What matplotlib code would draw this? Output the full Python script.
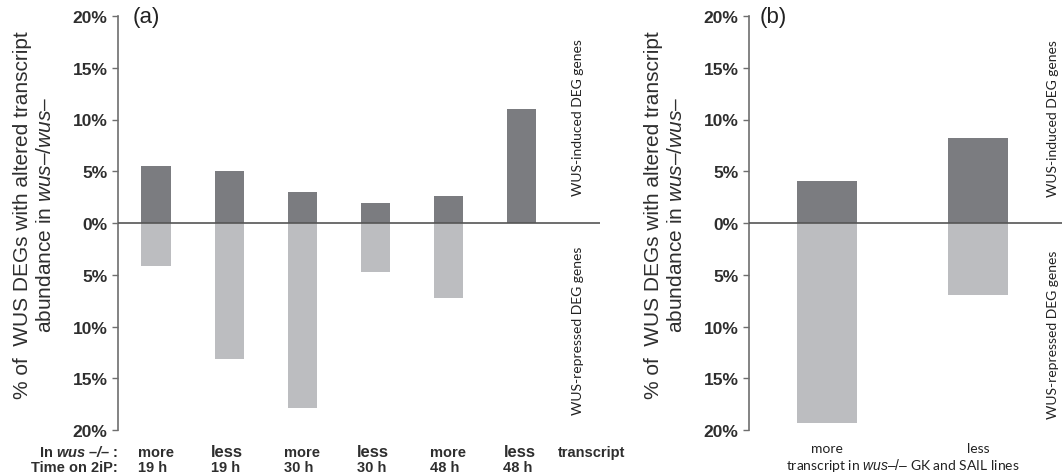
import matplotlib.pyplot as plt
from matplotlib.ticker import FuncFormatter

plt.rcParams['font.family'] = ['Liberation Sans', 'DejaVu Sans']
plt.rcParams['mathtext.fontset'] = 'custom'
plt.rcParams['mathtext.rm'] = 'Liberation Sans'
plt.rcParams['mathtext.it'] = 'Liberation Sans:italic'
plt.rcParams['mathtext.bf'] = 'Liberation Sans:bold'
plt.rcParams['mathtext.bfit'] = 'Liberation Sans:italic:bold'

# (a) time course on 2iP
change_a = ['more', 'less', 'more', 'less', 'more', 'less']
time_a = ['19 h', '19 h', '30 h', '30 h', '48 h', '48 h']
induced_a = [5.5, 5.0, 3.0, 1.9, 2.6, 11.0]
repressed_a = [4.2, 13.1, 17.9, 4.7, 7.2, 0.0]

# (b) GK and SAIL lines
change_b = ['more', 'less']
induced_b = [4.1, 8.2]
repressed_b = [19.3, 7.0]

dark = '#7b7c80'
light = '#bcbdc0'
axis_col = '#6e6e6e'
txt = '#2e2e2e'
yticks = [-20, -15, -10, -5, 0, 5, 10, 15, 20]
ylab = '% of  WUS DEGs with altered transcript\nabundance in $wus–/wus–$'

fig = plt.figure(figsize=(10.62, 4.77), dpi=100)
ax_a = fig.add_axes([118 / 1062, 1 - 431 / 477, 482 / 1062, 414 / 477])
ax_b = fig.add_axes([749 / 1062, 1 - 431 / 477, 313 / 1062, 414 / 477])


def style_axis(ax):
    ax.set_ylim(-20, 20)
    ax.set_yticks(yticks)
    ax.yaxis.set_major_formatter(FuncFormatter(lambda v, p: f'{abs(v):.0f}%'))
    for s in ['top', 'right', 'bottom']:
        ax.spines[s].set_visible(False)
    ax.spines['left'].set_color(axis_col)
    ax.spines['left'].set_linewidth(1.2)
    ax.tick_params(axis='y', length=4, width=1.0, color=axis_col, pad=3.5,
                   labelsize=12.5, labelcolor=txt)
    for lab in ax.get_yticklabels():
        lab.set_fontweight('bold')
    ax.set_xticks([])
    ax.axhline(0, color='#555555', lw=1.2, zorder=3)


# panel (a)
xa = list(range(len(induced_a)))
ax_a.bar(xa, induced_a, width=0.4, color=dark, zorder=2)
ax_a.bar(xa, [-v for v in repressed_a], width=0.4, color=light, zorder=2)
ax_a.set_xlim(-0.52, 6.07)
style_axis(ax_a)
ax_a.text(0.03, 1.0, '(a)', transform=ax_a.transAxes, fontsize=16,
          color='#222222', ha='left', va='center')

tr = ax_a.get_xaxis_transform()
for i, (c, t) in enumerate(zip(change_a, time_a)):
    size = 12 if c == 'less' else 10.5
    ax_a.text(i - 0.25, -0.063, c, transform=tr, ha='left', va='baseline',
              fontsize=size, fontweight='bold', color=txt)
    ax_a.text(i - 0.25, -0.098, t, transform=tr, ha='left', va='baseline',
              fontsize=10.5, fontweight='bold', color=txt)
ax_a.text(5.95, -0.063, 'transcript', transform=tr, ha='center', va='baseline',
          fontsize=10.5, fontweight='bold', color=txt)
fig.text(118 / 1062, 1 - 457 / 477, r'In $\mathbfit{wus\ –/–}$ :', ha='right',
         va='baseline', fontsize=10.5, fontweight='bold', color=txt)
fig.text(118 / 1062, 1 - 472 / 477, 'Time on 2iP:', ha='right', va='baseline',
         fontsize=10.5, fontweight='bold', color=txt)

ax_a.text(5.77, 10.3, 'WUS-induced DEG genes', rotation=90, ha='center',
          va='center', fontsize=10, family='Lato', color='#222222')
ax_a.text(5.77, -10.3, 'WUS-repressed DEG genes', rotation=90, ha='center',
          va='center', fontsize=10, family='Lato', color='#222222')
fig.text(34 / 1062, 1 - 215 / 477, ylab, rotation=90, ha='center', va='center',
         fontsize=15, color=txt, linespacing=1.3)

# panel (b)
xb = list(range(len(induced_b)))
ax_b.bar(xb, induced_b, width=0.4, color=dark, zorder=2)
ax_b.bar(xb, [-v for v in repressed_b], width=0.4, color=light, zorder=2)
ax_b.set_xlim(-0.517, 1.556)
style_axis(ax_b)
ax_b.text(0.035, 1.0, '(b)', transform=ax_b.transAxes, fontsize=16,
          color='#222222', ha='left', va='center')

trb = ax_b.get_xaxis_transform()
for i, c in enumerate(change_b):
    ax_b.text(i, -0.053, c, transform=trb, ha='center', va='baseline',
              fontsize=10, family='Lato', color='#222222')
ax_b.text(0.5, -0.094, r'transcript in $wus–/–$ GK and SAIL lines',
          transform=trb, ha='center', va='baseline', fontsize=10,
          family='Lato', color='#222222')
ax_b.text(1.497, 10.2, 'WUS-induced DEG genes', rotation=90, ha='center',
          va='center', fontsize=10, family='Lato', color='#222222')
ax_b.text(1.497, -10.7, 'WUS-repressed DEG genes', rotation=90, ha='center',
          va='center', fontsize=10, family='Lato', color='#222222')
fig.text(665 / 1062, 1 - 215 / 477, ylab, rotation=90, ha='center', va='center',
         fontsize=15, color=txt, linespacing=1.3)

fig.savefig('out.png', dpi=100)
